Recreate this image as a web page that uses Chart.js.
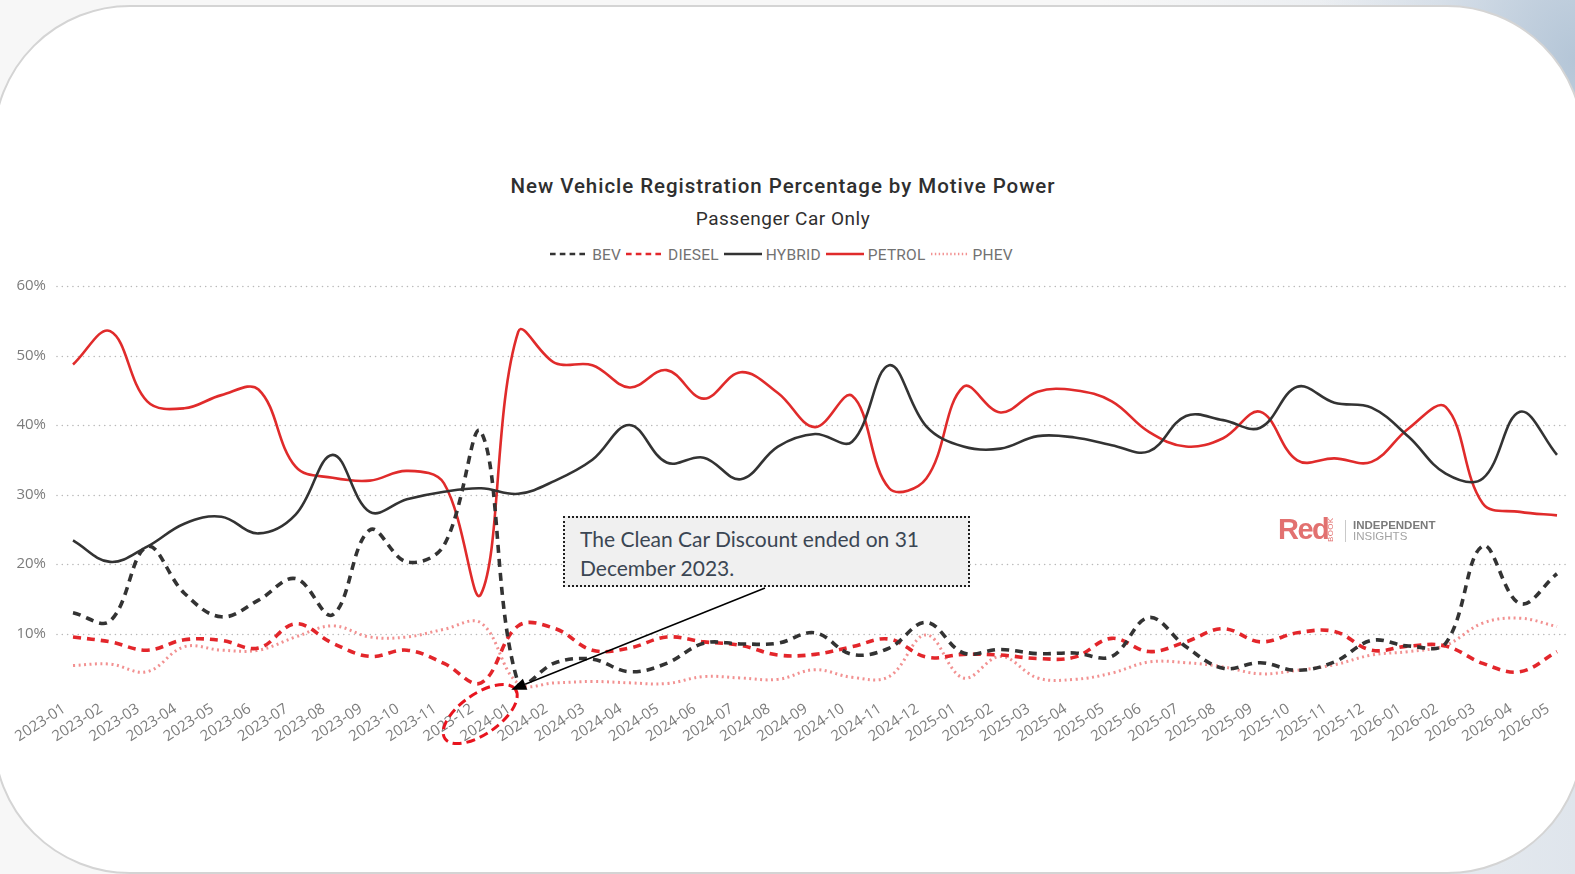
<!DOCTYPE html>
<html>
<head>
<meta charset="utf-8">
<script src="https://cdn.jsdelivr.net/npm/chart.js@4.4.1/dist/chart.umd.min.js"></script>
<style>
  html, body { margin: 0; padding: 0; }
  body {
    width: 1575px; height: 874px; overflow: hidden; position: relative;
    background:
      radial-gradient(ellipse 260px 340px at 1575px 60px, rgba(178,196,214,0.95), rgba(205,216,228,0.6) 55%, rgba(244,244,244,0) 100%),
      linear-gradient(90deg, #f7f7f7 0%, #f7f7f7 70%, #dfe5ec 100%);
  }
  #card {
    position: absolute; left: -7px; top: 5px; width: 1587px; height: 865px;
    background: #fff; border: 2px solid #d4d4d4; border-radius: 137px;
  }
  #title {
    position: absolute; left: 0; width: 1566px; top: 176px; text-align: center;
    font-family: Roboto, sans-serif; font-weight: 500; font-size: 20.5px; line-height: 20px;
    letter-spacing: 0.95px; color: #2f2f2f;
  }
  #subtitle {
    position: absolute; left: 0; width: 1566px; top: 210px; text-align: center;
    font-family: Roboto, sans-serif; font-size: 19px; line-height: 18px; letter-spacing: 0.5px; color: #2f2f2f;
  }
  #legend {
    position: absolute; left: 0; width: 1562px; top: 247px; text-align: center;
    font-family: Roboto, sans-serif; font-size: 15.5px; line-height: 16px; color: #727272;
    letter-spacing: 0.2px;
  }
  #legend .item { display: inline-block; margin: 0 2px; white-space: nowrap; }
  #legend svg { vertical-align: middle; margin-right: 3px; position: relative; top: -2px; }
  #chartBox { position: absolute; left: 0; top: 0; width: 1575px; height: 874px; }
  #note {
    position: absolute; left: 563px; top: 516px;
    background: #f0f0f0; border: 2px dotted #1e1e1e;
    font-family: Lato, sans-serif; font-size: 21px; line-height: 29px; color: #3b4653;
    padding: 6px 0 0 15px; box-sizing: border-box; width: 407px; height: 71px;
  }
  #logo { position: absolute; left: 1278px; top: 512px; height: 34px; }
  #logo .red {
    position: absolute; left: 0; top: 0; font-family: "Liberation Sans", Arial, sans-serif;
    font-weight: 700; font-size: 29px; letter-spacing: -1.5px; color: #e27170; line-height: 34px;
  }
  #logo .book {
    position: absolute; left: 49px; top: 30px; transform: rotate(-90deg); transform-origin: 0 0;
    font-family: "Liberation Sans", Arial, sans-serif; font-size: 8px; color: #e27170; line-height: 8px;
    letter-spacing: 0.3px;
  }
  #logo .sep { position: absolute; left: 67px; top: 8px; width: 1px; height: 22px; background: #c9c9c9; }
  #logo .ind {
    position: absolute; left: 75px; top: 8px; font-family: "Liberation Sans", Arial, sans-serif;
    font-weight: 700; font-size: 11.5px; color: #7a7a7a; line-height: 11px; white-space: nowrap;
  }
  #logo .ins {
    position: absolute; left: 75px; top: 19px; font-family: "Liberation Sans", Arial, sans-serif;
    font-size: 11.5px; color: #a3a3a3; line-height: 11px; white-space: nowrap;
  }
</style>
</head>
<body>
<div id="card"></div>
<div id="title">New Vehicle Registration Percentage by Motive Power</div>
<div id="subtitle">Passenger Car Only</div>
<div id="legend"></div>
<div id="chartBox"><canvas id="c"></canvas></div>
<div id="note">The Clean Car Discount ended on 31<br>December 2023.</div>
<div id="logo">
  <span class="red">Red</span><span class="book">BOOK</span>
  <span class="sep"></span>
  <span class="ind">INDEPENDENT</span>
  <span class="ins">INSIGHTS</span>
</div>
<script>
// Months shown on the category axis
const months = [
  '2023-01','2023-02','2023-03','2023-04','2023-05','2023-06','2023-07','2023-08','2023-09','2023-10','2023-11','2023-12',
  '2024-01','2024-02','2024-03','2024-04','2024-05','2024-06','2024-07','2024-08','2024-09','2024-10','2024-11','2024-12',
  '2025-01','2025-02','2025-03','2025-04','2025-05','2025-06','2025-07','2025-08','2025-09','2025-10','2025-11','2025-12',
  '2026-01','2026-02','2026-03','2026-04','2026-05'
];

// Share of new passenger car registrations (%) by motive power
const bev = [13.0, 11.8, 22.5, 15.8, 12.4, 14.8, 17.9, 12.7, 24.9, 20.3, 22.7, 39.0,
  2.9, 5.8, 6.3, 4.5, 5.7, 8.6, 8.5, 8.6, 10.1, 7.0, 7.9, 11.6,
  7.2, 7.7, 7.1, 7.2, 6.7, 12.3, 8.1, 5.0, 5.8, 4.7, 5.9, 9.0,
  8.2, 8.6, 22.6, 14.3, 18.6];
const diesel = [9.5, 8.8, 7.6, 9.1, 9.0, 7.9, 11.4, 8.6, 6.7, 7.6, 5.7, 2.9,
  11.1, 10.7, 7.6, 7.9, 9.5, 8.8, 8.3, 6.9, 7.0, 8.1, 9.2, 6.6,
  7.0, 6.9, 6.4, 6.6, 9.3, 7.4, 8.8, 10.7, 8.8, 10.1, 10.3, 7.6,
  8.2, 8.2, 5.7, 4.5, 7.4];
const hybrid = [23.4, 20.3, 22.5, 25.8, 26.8, 24.4, 27.1, 35.7, 27.5, 29.3, 30.4, 30.9,
  30.1, 32.0, 35.0, 40.0, 34.6, 35.3, 32.2, 36.9, 38.7, 37.6, 48.6, 39.8,
  36.9, 36.6, 38.4, 38.2, 37.1, 36.2, 41.3, 40.7, 39.6, 45.5, 43.2, 42.5,
  38.3, 33.0, 32.3, 41.9, 35.7];
const petrol = [48.7, 53.5, 43.4, 42.4, 44.3, 45.1, 34.0, 32.4, 32.0, 33.4, 31.6, 15.7,
  53.4, 48.9, 48.6, 45.4, 47.9, 43.8, 47.6, 44.6, 39.7, 44.2, 30.9, 32.3,
  45.5, 41.8, 44.8, 45.0, 43.4, 39.0, 36.9, 38.1, 41.9, 34.9, 35.2, 34.7,
  39.5, 42.6, 28.7, 27.5, 27.0];
const phev = [5.4, 5.6, 4.5, 8.1, 7.6, 7.6, 9.5, 11.1, 9.5, 9.5, 10.6, 11.5,
  2.8, 2.9, 3.1, 2.9, 2.8, 3.8, 3.6, 3.4, 4.8, 3.7, 3.8, 9.8,
  3.6, 6.7, 3.6, 3.4, 4.3, 5.9, 5.8, 5.2, 4.2, 4.7, 5.5, 6.9,
  7.4, 8.3, 11.5, 12.2, 11.0];

// Value-axis ticks (percent)
const yTicks = [0, 10, 20, 30, 40, 50, 60];

// Series styling
const seriesNames = ['BEV', 'DIESEL', 'HYBRID', 'PETROL', 'PHEV'];
const seriesValues = [bev, diesel, hybrid, petrol, phev];
const seriesColors = ['#333333', '#e3262b', '#333333', '#e02b2b', '#f29191'];
const seriesWidths = [3.6, 3.6, 2.6, 2.6, 3];
const seriesDashes = [[8, 6], [8, 6], [], [], [2, 3.5]];

// Legend with line samples
const legendEl = document.getElementById('legend');
seriesNames.forEach((name, i) => {
  const item = document.createElement('span');
  item.className = 'item';
  const dash = seriesDashes[i].length ? seriesDashes[i].map(v => v * 0.7).join(' ') : 'none';
  item.innerHTML =
    '<svg width="40" height="8"><line x1="1" y1="4" x2="39" y2="4" stroke="' + seriesColors[i] +
    '" stroke-width="' + (seriesDashes[i].length ? 2.6 : 2.4) + '" stroke-dasharray="' + dash + '"/></svg>' + name;
  legendEl.appendChild(item);
});

// Dotted horizontal guide lines across the full width
const dottedGrid = {
  id: 'dottedGrid',
  beforeDatasetsDraw(chart) {
    const { ctx } = chart;
    const y = chart.scales.y;
    ctx.save();
    ctx.strokeStyle = '#b9b9b9';
    ctx.lineWidth = 1.6;
    ctx.lineCap = 'round';
    ctx.setLineDash([0.01, 5.3]);
    y.ticks.forEach(t => {
      if (t.value === 0) return;
      const py = Math.round(y.getPixelForValue(t.value)) + 0.5;
      ctx.beginPath();
      ctx.moveTo(57, py);
      ctx.lineTo(chart.width - 7, py);
      ctx.stroke();
    });
    ctx.restore();
  }
};

// Callout arrow towards January 2024 and the dashed ring around its label
const callout = {
  id: 'callout',
  afterDraw(chart) {
    const { ctx } = chart;
    const x = chart.scales.x, y = chart.scales.y;
    const px = x.getPixelForValue(12);
    const base = y.getPixelForValue(0);
    ctx.save();
    // dashed ring
    ctx.strokeStyle = '#e8141e';
    ctx.lineWidth = 3;
    ctx.setLineDash([9, 5]);
    ctx.beginPath();
    ctx.ellipse(px - 38, base + 11, 43, 20, -35 * Math.PI / 180, 0, Math.PI * 2);
    ctx.stroke();
    // arrow
    const tipX = px - 7, tipY = y.getPixelForValue(bev[12]) + 7;
    const tailX = 765, tailY = 588;
    const ang = Math.atan2(tipY - tailY, tipX - tailX);
    const headLen = 15, headW = 6;
    const bx = tipX - headLen * Math.cos(ang), by = tipY - headLen * Math.sin(ang);
    ctx.setLineDash([]);
    ctx.strokeStyle = '#000';
    ctx.lineWidth = 1.5;
    ctx.beginPath();
    ctx.moveTo(tailX, tailY);
    ctx.lineTo(bx, by);
    ctx.stroke();
    ctx.fillStyle = '#000';
    ctx.beginPath();
    ctx.moveTo(tipX, tipY);
    ctx.lineTo(bx + headW * Math.sin(ang), by - headW * Math.cos(ang));
    ctx.lineTo(bx - headW * Math.sin(ang), by + headW * Math.cos(ang));
    ctx.closePath();
    ctx.fill();
    ctx.restore();
  }
};

new Chart(document.getElementById('c'), {
  type: 'line',
  data: {
    labels: months,
    datasets: seriesNames.map((name, i) => ({
      label: name,
      data: seriesValues[i],
      borderColor: seriesColors[i],
      borderWidth: seriesWidths[i],
      borderDash: seriesDashes[i],
      borderCapStyle: 'butt',
      pointRadius: 0,
      tension: 0.38,
      fill: false
    }))
  },
  options: {
    responsive: true,
    maintainAspectRatio: false,
    animation: false,
    events: [],
    layout: { padding: { left: 0, right: 18, top: 286, bottom: 0 } },
    plugins: { legend: { display: false }, tooltip: { enabled: false } },
    scales: {
      x: {
        type: 'category',
        offset: false,
        grid: { display: false, drawTicks: false },
        border: { display: false },
        afterFit(scale) { scale.height = 171; },
        ticks: {
          autoSkip: false,
          minRotation: 33,
          maxRotation: 33,
          padding: -3,
          labelOffset: -9,
          color: '#7d7d7d',
          font: { family: '"Open Sans", sans-serif', size: 15 }
        }
      },
      y: {
        min: 0,
        max: 60,
        grid: { display: false, drawTicks: false },
        border: { display: false },
        afterFit(scale) { scale.width = 73; },
        afterBuildTicks(scale) { scale.ticks = yTicks.map(v => ({ value: v })); },
        ticks: {
          padding: 27,
          color: '#7c7c7c',
          font: { family: '"Open Sans", sans-serif', size: 15 },
          callback: v => (v === 0 ? '' : v + '%')
        }
      }
    }
  },
  plugins: [dottedGrid, callout]
});
</script>
</body>
</html>
